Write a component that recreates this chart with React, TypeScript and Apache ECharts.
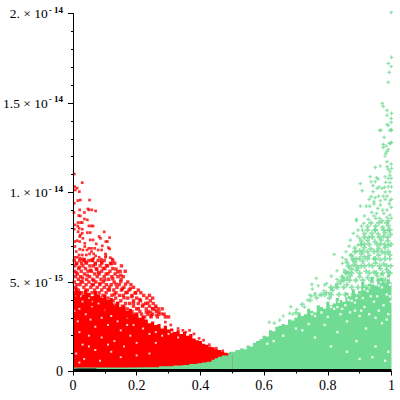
import React, { useEffect, useRef } from "react";
import * as echarts from "echarts";

const FONT = '"Liberation Serif", serif';
const RED = "#ff0000";
const GREEN = "#70db93";
const PLUS = "path://M1 0h1v1h1v1h-1v1h-1v-1h-1v-1h1z";

const yTickLabels: Record<number, string> = {
  0: "0",
  5: "{m|5. × 10}{e|- 15}",
  10: "{m|1. × 10}{e|- 14}",
  15: "{m|1.5 × 10}{e|- 14}",
  20: "{m|2. × 10}{e|- 14}",
};
const xTickLabels: Record<number, string> = { 0: "0", 0.2: "0.2", 0.4: "0.4", 0.6: "0.6", 0.8: "0.8", 1: "1" };

// y values are in units of 10^-15
const greenBody = [[0,0.3],[0.2,0.3],[0.3,0.4],[0.36,0.5],[0.4,0.56],[0.42,0.7],[0.45,0.85],[0.48,1.02],[0.5,1.1],[0.52,1.2],[0.53,1.3],[0.54,1.25],[0.55,1.45],[0.56,1.4],[0.57,1.6],[0.58,1.7],[0.59,1.8],[0.6,2.0],[0.61,1.95],[0.62,2.3],[0.63,2.25],[0.64,2.5],[0.65,2.55],[0.66,2.65],[0.67,2.6],[0.68,2.9],[0.69,2.85],[0.7,3.0],[0.71,3.3],[0.72,3.1],[0.73,3.2],[0.74,3.5],[0.75,3.4],[0.76,3.3],[0.77,3.7],[0.78,3.6],[0.79,3.5],[0.8,3.9],[0.81,3.7],[0.82,3.8],[0.83,4.1],[0.84,4.0],[0.85,3.9],[0.86,4.4],[0.87,4.2],[0.88,4.6],[0.89,4.3],[0.9,4.5],[0.91,5.0],[0.92,4.7],[0.93,4.9],[0.94,5.3],[0.95,4.8],[0.96,5.2],[0.97,5.5],[0.98,5.0],[0.99,5.4],[1,5.0]];
const redBody = [[0,4.4],[0.01,4.7],[0.02,4.5],[0.03,4.3],[0.04,4.6],[0.05,4.4],[0.06,4.2],[0.07,4.5],[0.08,4.3],[0.09,4.1],[0.1,4.3],[0.11,4.0],[0.12,4.1],[0.13,3.8],[0.14,3.9],[0.15,3.6],[0.16,3.7],[0.17,3.4],[0.18,3.5],[0.19,3.2],[0.2,3.3],[0.21,3.0],[0.22,3.1],[0.23,2.9],[0.24,2.7],[0.25,2.8],[0.26,2.6],[0.27,2.65],[0.28,2.4],[0.29,2.55],[0.3,2.35],[0.31,2.4],[0.32,2.2],[0.33,2.3],[0.34,2.1],[0.35,2.2],[0.36,2.0],[0.37,2.1],[0.38,1.85],[0.39,1.75],[0.4,1.7],[0.41,1.55],[0.42,1.5],[0.43,1.4],[0.44,1.35],[0.45,1.25],[0.46,1.2],[0.47,1.1],[0.48,1.05],[0.49,1.0],[0.5,0.95]];
const greenFloor = [[0,0.22],[0.1,0.22],[0.24,0.24],[0.3,0.3],[0.33,0.34],[0.35,0.36],[0.38,0.42],[0.4,0.46],[0.41,0.5],[0.43,0.55],[0.44,0.66],[0.45,0.74],[0.46,0.82],[0.475,0.9],[0.5,1.0]];
const blackBand = [[0,0.05],[0.015,0.09],[0.07,0.09],[0.075,0.05],[1,0.05]];

const redSparse = [[0.004,11.03],[0.029,10.55],[0.005,10.33],[0.013,10.25],[0.007,10.14],[0.02,10.05],[0.004,9.4],[0.015,9.55],[0.023,9.58],[0.052,9.58],[0.003,8.88],[0.021,9.03],[0.047,9.08],[0.05,9.03],[0.059,9.03],[0.071,8.97],[0.036,8.88],[0.018,8.71],[0.023,8.69],[0.036,8.52],[0.045,8.47],[0.006,8.19],[0.016,8.32],[0.024,8.32],[0.029,8.32],[0.05,8.13],[0.058,8.13],[0.063,8.13],[0.015,8.13],[0.004,7.95],[0.019,8.0],[0.029,7.95],[0.098,7.8],[0.016,7.81],[0.029,7.72],[0.045,7.76],[0.054,7.76],[0.023,7.63],[0.021,7.54],[0.006,7.26],[0.013,7.31],[0.031,7.44],[0.054,7.35],[0.063,7.35],[0.082,7.54],[0.086,7.44],[0.115,7.48],[0.103,7.26],[0.108,7.26],[0.021,7.26],[0.037,7.16],[0.006,6.98],[0.01,6.7],[0.021,6.83],[0.037,6.98],[0.05,6.88],[0.058,6.88],[0.073,7.13],[0.092,7.02],[0.111,6.92],[0.115,6.85],[0.068,6.88],[0.031,6.79],[0.044,6.79],[0.058,6.7],[0.079,6.79],[0.09,6.79],[0.102,6.57],[0.103,6.46],[0.019,6.51],[0.029,6.51],[0.042,6.51],[0.052,6.57],[0.065,6.57],[0.005,6.38],[0.013,6.38],[0.021,6.33],[0.037,6.27],[0.065,6.33],[0.082,6.38],[0.071,6.46],[0.117,6.36],[0.123,6.29],[0.102,6.38],[0.089,6.27],[0.366,2.3],[0.38,2.1],[0.354,2.2],[0.307,2.6],[0.29,2.76],[0.28,3.22],[0.262,3.15],[0.257,3.45],[0.26,3.6],[0.245,3.3],[0.33,2.4],[0.345,2.3],[0.396,1.85],[0.41,1.75],[0.428,1.5],[0.45,1.3],[0.47,1.15]];

const redRowY = [6.2,6.05,5.9,5.75,5.6,5.45,5.3,5.15,5.0,4.85,4.7,4.55,4.4,4.25,4.1,3.95,3.8,3.65,3.5,3.35,3.2,3.05];
const redRowX = [
  [0.004,0.021,0.034,0.05,0.061,0.079,0.098,0.125],
  [0.012,0.027,0.042,0.07,0.09,0.118,0.131],
  [0.006,0.031,0.053,0.064,0.085,0.108,0.152],
  [0.018,0.039,0.073,0.1,0.125],
  [0.005,0.026,0.047,0.058,0.09,0.116,0.148,0.164],
  [0.014,0.036,0.068,0.082,0.104,0.132],
  [0.008,0.024,0.052,0.076,0.098,0.122,0.141,0.158],
  [0.017,0.043,0.062,0.088,0.112,0.151],
  [0.004,0.03,0.05,0.072,0.095,0.129,0.172],
  [0.012,0.022,0.041,0.064,0.084,0.105,0.12,0.145,0.182],
  [0.007,0.034,0.056,0.076,0.098,0.138,0.16,0.19],
  [0.017,0.045,0.068,0.09,0.114,0.128,0.152,0.176,0.205],
  [0.005,0.026,0.038,0.06,0.082,0.104,0.135,0.166,0.197,0.213],
  [0.014,0.05,0.072,0.094,0.122,0.146,0.158,0.185,0.222,0.24],
  [0.008,0.03,0.043,0.066,0.086,0.11,0.134,0.172,0.2,0.232,0.25],
  [0.02,0.054,0.078,0.1,0.126,0.15,0.19,0.212,0.243],
  [0.006,0.036,0.064,0.092,0.116,0.14,0.165,0.178,0.205,0.228,0.252],
  [0.015,0.028,0.05,0.074,0.106,0.13,0.155,0.19,0.218,0.24,0.26],
  [0.008,0.042,0.06,0.086,0.12,0.145,0.17,0.2,0.23,0.25,0.268,0.28],
  [0.02,0.034,0.07,0.1,0.112,0.136,0.16,0.185,0.21,0.238,0.262],
  [0.15,0.17,0.19,0.215,0.235,0.25,0.27,0.286],
  [0.17,0.2,0.225,0.245,0.265,0.29,0.3],
];
const redScatterExtra = [[0.01,5.52],[0.02,5.83],[0.03,5.22],[0.04,6.12],[0.045,5.37],[0.055,5.66],[0.065,5.08],[0.07,6.0],[0.08,5.52],[0.085,4.92],[0.095,5.76],[0.1,5.12],[0.11,5.46],[0.115,4.72],[0.12,6.02],[0.125,5.18],[0.135,4.88],[0.14,5.56],[0.15,5.02],[0.155,4.62],[0.165,4.88],[0.17,4.42],[0.18,4.62],[0.185,4.18],[0.195,4.38],[0.21,4.02],[0.22,3.72],[0.235,3.82],[0.25,3.52],[0.27,3.32],[0.01,6.02],[0.03,6.28],[0.06,6.24],[0.09,6.12],[0.105,5.92],[0.135,5.72],[0.15,5.38],[0.075,5.7],[0.025,5.02],[0.06,4.85],[0.11,4.58],[0.13,4.32],[0.16,4.12],[0.19,3.82],[0.205,3.52],[0.23,3.32],[0.245,3.12]];

const greenSparse = [[0.999,20.06],[1,17.55],[0.99,17.21],[0.999,17.04],[0.993,16.71],[0.99,16.15],[0.971,14.98],[0.974,14.81],[0.986,14.59],[1,14.42],[0.986,14.31],[0.999,14.14],[0.999,13.92],[0.986,13.8],[0.99,13.75],[0.963,13.47],[0.967,13.47],[0.995,13.47],[0.999,13.52],[1,13.47],[0.977,13.08],[0.974,12.69],[0.974,12.52],[0.983,12.6],[0.993,12.74],[0.997,12.76],[1,12.8],[0.99,12.41],
[0.986,12.3],[0.982,12.19],[0.98,12.04],[0.986,11.72],[0.949,11.4],[0.965,11.48],[0.986,11.44],[0.999,11.59],[0.99,11.29],[0.995,11.16],[1,11.35],[0.933,10.88],[0.953,10.83],[0.958,10.75],[0.98,10.88],[0.99,10.79],[0.999,10.79],[0.995,10.96],[0.902,10.5],[0.936,10.6],[0.949,10.6],[0.982,10.57],[0.995,10.55],[0.942,10.38],[0.961,10.32],[0.99,10.32],[1,10.32],[0.908,10.1],[0.942,10.05],[0.955,10.23],[0.97,10.23],[0.978,10.29],[0.995,10.05],[0.936,9.77],[0.949,9.71],[0.959,9.8],[0.974,9.8],[0.986,9.8],[0.98,10.03],[0.93,9.62],[0.945,9.49],[0.965,9.54],[0.98,9.62],[0.995,9.54],[1,9.62],[0.902,9.24],[0.921,9.24],[0.932,9.24],[0.945,9.36],[0.965,9.3],[0.993,9.36],[0.938,8.89],[0.957,9.11],[0.972,9.02],[0.986,9.02],[0.999,9.17],[0.915,8.69],[0.945,8.69],[0.953,8.83],[0.976,8.83],[0.995,8.74],[0.89,8.5],[0.927,8.5],[0.951,8.56],[0.963,8.56],[0.986,8.61],[0.999,8.56],
[0.89,8.42],[0.913,8.27],[0.906,8.12],[0.895,7.9],[0.88,7.72],[0.909,7.9],[0.893,7.57],[0.871,7.34],[0.9,7.44],[0.867,7],[0.895,7.06],[0.906,7.12],[0.82,6.54],[0.857,6.69],[0.871,6.5],[0.846,6.37],[0.856,6.26],[0.877,6.23],[0.846,6.04],[0.89,6.69],[0.829,5.63],[0.851,5.67],[0.867,5.82],[0.811,5.33],[0.848,5.26],[0.764,5.2],[0.75,4.87],[0.796,4.92],[0.79,4.83],[0.811,4.64],[0.77,4.79],[0.787,4.51],[0.759,4.27],[0.775,4.27],[0.749,4.21],[0.806,4.36],[0.829,5.15],[0.84,4.92],
[0.684,3.62],[0.703,3.47],[0.66,3.1],[0.751,4.6],[0.76,4.37],[0.727,3.6],[0.737,3.99],[0.743,4.27],[0.616,2.75],[0.649,2.87],[0.68,3.25],[0.632,2.7],[0.69,3.2]];

const greenRowY = [8.3,7.9,7.5,7.1,6.7,6.3,5.9,5.5,5.1,4.7,4.3];
const greenRowX = [
  [0.935,0.96,0.985],
  [0.925,0.948,0.975,0.995],
  [0.915,0.94,0.962,0.988],
  [0.905,0.93,0.955,0.978,0.998],
  [0.885,0.91,0.945,0.97,0.99],
  [0.88,0.9,0.925,0.95,0.98],
  [0.865,0.89,0.915,0.94,0.962,0.985],
  [0.858,0.875,0.9,0.93,0.952,0.972,0.995],
  [0.85,0.868,0.888,0.91,0.935,0.96,0.98],
  [0.81,0.83,0.85,0.875,0.895,0.92,0.94],
  [0.79,0.81,0.835,0.855,0.88,0.9],
];
const greenScatterExtra = [[0.925,8.1],[0.95,8.12],[0.972,8.05],[0.99,8.15],[0.915,7.7],[0.938,7.72],[0.958,7.68],[0.98,7.75],[0.997,7.66],[0.905,7.28],[0.925,7.32],[0.948,7.26],[0.968,7.34],[0.988,7.3],[0.885,6.9],[0.915,6.92],[0.935,6.85],[0.96,6.88],[0.98,6.92],[0.875,6.48],[0.905,6.55],[0.93,6.48],[0.96,6.5],[0.995,6.52],[0.86,6.1],[0.885,6.12],[0.91,6.15],[0.875,5.72],[0.845,5.3],[0.87,5.34],[0.895,5.78],[0.83,4.9],[0.86,4.85],[0.815,4.55],[0.795,4.4],[0.78,4.3],[0.765,4.12],[0.745,3.98],[0.72,3.75],[0.7,3.28],[0.805,4.1],[0.825,4.75],[0.84,5.05],[0.855,5.55],[0.97,8.4],[0.99,8.42],[0.95,7.9],[0.99,7.9],[0.93,7.5],[0.975,7.55],[0.915,7.1],[0.965,7.12],[0.99,7.05],[0.9,6.75],[0.925,6.7],[0.955,6.72],[0.98,6.6],[0.89,6.3],[0.915,6.4],[0.945,6.3],[0.965,6.25],[0.995,6.3],[0.88,5.95],[0.905,5.9],[0.93,5.95],[0.95,6.05],[0.975,6.0],[0.998,5.9],[0.865,5.55],[0.89,5.65],[0.92,5.6],[0.945,5.55],[0.965,5.75],[0.985,5.7],[0.86,5.2],[0.9,5.3],[0.925,5.25],[0.955,5.35],[0.99,5.55]];
const greenGaps = [[0.72,2.3],[0.76,1.9],[0.79,2.6],[0.83,2.2],[0.86,2.8],[0.89,1.7],[0.92,2.4],[0.95,1.4],[0.97,2.7],[0.99,1.1],[0.94,0.8],[0.98,0.6],[0.9,0.7],[0.86,1.1],[0.81,1.4],[0.66,2.0],[0.7,2.4],[0.74,2.65],[0.63,1.7],[0.61,1.55],[0.76,3.1],[0.78,3.3],[0.8,3.05],[0.82,3.5],[0.84,3.2],[0.855,3.7],[0.87,3.3],[0.885,3.85],[0.9,3.1],[0.915,3.6],[0.93,3.2],[0.945,3.9],[0.96,3.4],[0.975,3.7],[0.99,3.2],[0.998,3.9],[0.81,3.6],[0.835,3.9],[0.75,3.2],[0.905,3.4],[0.95,3.0],[0.985,2.9],[0.83,3.6],[0.845,3.5],[0.86,4.2],[0.875,3.95],[0.89,4.1],[0.9,4.3],[0.91,4.1],[0.925,4.5],[0.94,4.9],[0.955,4.2],[0.97,4.7],[0.985,4.3],[0.995,4.85],[0.865,4.0],[0.935,4.2],[0.96,4.8],[0.915,4.6],[0.885,3.4],[0.98,5.0],[0.99,5.2],[0.93,4.7],[0.945,5.1],[0.965,5.0],[0.97,5.3],[0.995,4.2]];
const redGaps = [[0.01,4.2],[0.03,3.9],[0.05,4.1],[0.02,3.5],[0.06,3.6],[0.08,3.8],[0.04,3.2],[0.1,3.4],[0.12,3.1],[0.09,3.0],[0.015,2.8],[0.055,2.9],[0.14,2.8],[0.17,3.0],[0.07,2.5],[0.11,2.6],[0.02,2.2],[0.15,2.3],[0.19,2.6],[0.05,2.0],[0.09,1.9],[0.13,1.7],[0.03,1.5],[0.18,2.0],[0.22,2.4],[0.24,2.1],[0.07,1.2],[0.01,1.0],[0.12,1.1],[0.16,1.4],[0.2,1.6],[0.26,2.2],[0.28,2.0],[0.3,2.1],[0.035,0.7],[0.085,0.6],[0.15,0.8],[0.005,3.4],[0.13,3.7],[0.025,4.2],[0.06,3.9],[0.2,0.9],[0.24,1.0],[0.26,1.6],[0.31,2.2],[0.33,1.9],[0.02,0.5],[0.11,1.5],[0.05,1.4],[0.17,2.6]];

const rowsToPoints = (ys: number[], xs: number[][]) =>
  ys.flatMap((y, i) => xs[i].map((x) => [x, y]));

const areaSeries = (data: number[][], color: string) => ({
  type: "line",
  data,
  step: "middle",
  showSymbol: false,
  silent: true,
  lineStyle: { width: 0 },
  itemStyle: { color },
  areaStyle: { color, opacity: 1 },
});

const scatter = (data: number[][], color: string, symbol: string, symbolSize: number) => ({
  type: "scatter",
  data,
  clip: false,
  symbol,
  symbolSize,
  silent: true,
  itemStyle: { color },
});

export default function App() {
  const ref = useRef<HTMLDivElement>(null);
  useEffect(() => {
    document.body.style.margin = "0";
    const chart = echarts.init(ref.current!, undefined, { renderer: "svg" });
    const series = [
      areaSeries(greenBody, GREEN),
      scatter(greenGaps, "#ffffff", "rect", 2.4),
      scatter(rowsToPoints(greenRowY, greenRowX), GREEN, PLUS, 5.5),
      scatter(greenScatterExtra, GREEN, PLUS, 5),
      scatter(greenSparse, GREEN, PLUS, 3.6),
      areaSeries(redBody, RED),
      scatter(redGaps, "#ffffff", "rect", 2),
      areaSeries(greenFloor, GREEN),
      scatter(rowsToPoints(redRowY, redRowX), RED, "rect", 3.4),
      scatter(redScatterExtra, RED, "rect", 3.4),
      scatter(redSparse, RED, "rect", 2.7),
      {
        type: "line",
        data: blackBand,
        clip: false,
        showSymbol: false,
        silent: true,
        lineStyle: { color: "#000", width: 3 },
      },
    ].map((s, i) => ({ ...s, z: i + 2 }));
    chart.setOption({
      animation: false,
      backgroundColor: "#ffffff",
      grid: { left: 73, right: 8.5, top: 13.5, bottom: 28.5 },
      xAxis: {
        type: "value",
        min: 0,
        max: 1,
        interval: 0.2,
        z: 50,
        splitLine: { show: false },
        axisLine: { onZero: false, lineStyle: { color: "#000", width: 1 } },
        axisTick: { length: 4, lineStyle: { color: "#000" } },
        minorTick: { show: true, splitNumber: 2, length: 2, lineStyle: { color: "#000" } },
        axisLabel: {
          margin: 7,
          color: "#000",
          fontFamily: FONT,
          fontSize: 14,
          formatter: (v: number) => xTickLabels[v] ?? "",
        },
      },
      yAxis: {
        type: "value",
        min: 0,
        max: 20,
        interval: 5,
        z: 50,
        splitLine: { show: false },
        axisLine: { show: true, onZero: false, lineStyle: { color: "#000", width: 1 } },
        axisTick: { show: true, length: 5, lineStyle: { color: "#000" } },
        minorTick: { show: true, splitNumber: 5, length: 2, lineStyle: { color: "#000" } },
        axisLabel: {
          margin: 10,
          color: "#000",
          fontFamily: FONT,
          fontSize: 14,
          formatter: (v: number) => yTickLabels[v] ?? "",
          rich: {
            m: { fontFamily: FONT, fontSize: 13.5, color: "#000" },
            e: { fontFamily: FONT, fontSize: 9, fontWeight: "bold", color: "#000", padding: [0, 0, 8, 1] },
          },
        },
      },
      series,
    });
    return () => chart.dispose();
  }, []);
  return <div ref={ref} style={{ position: "fixed", left: 0, top: 0, width: 400, height: 400 }} />;
}
